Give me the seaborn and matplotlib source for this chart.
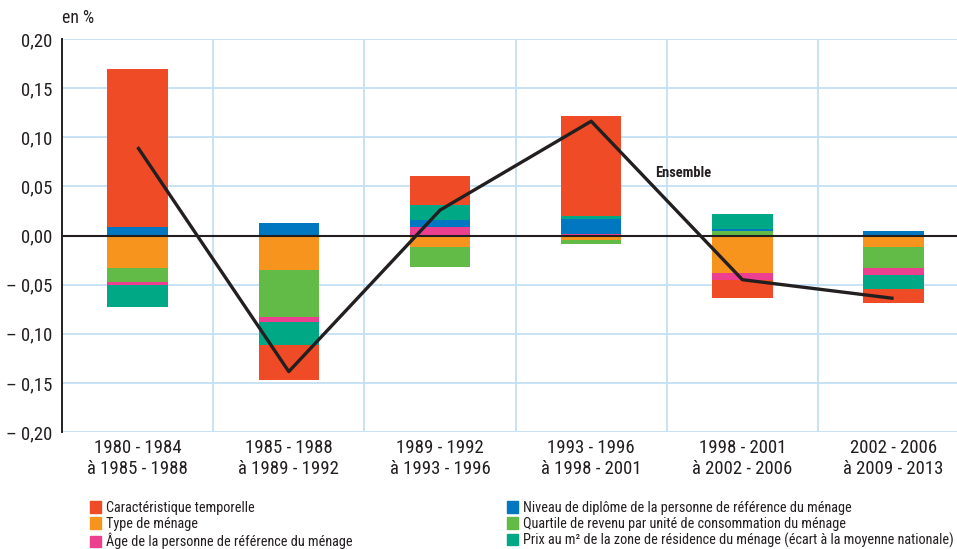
import numpy as np
import pandas as pd
import matplotlib
matplotlib.use("Agg")
import matplotlib.pyplot as plt
import seaborn as sns
from matplotlib.patches import Patch
from matplotlib import font_manager as fm

# ---------------- data ----------------
categories = ["1980 - 1984\nà 1985 - 1988", "1985 - 1988\nà 1989 - 1992",
              "1989 - 1992\nà 1993 - 1996", "1993 - 1996\nà 1998 - 2001",
              "1998 - 2001\nà 2002 - 2006", "2002 - 2006\nà 2009 - 2013"]
temporelle = [0.1605, -0.0355, 0.0292, 0.1020, -0.0184, -0.0143]
type_menage = [-0.0334, -0.0350, -0.0116, -0.0044, -0.0384, -0.0119]
age = [-0.0031, -0.0046, 0.0089, 0.0015, -0.0068, -0.0068]
diplome = [0.0089, 0.0130, 0.0067, 0.0150, 0.0024, 0.0050]
quartile = [-0.0135, -0.0484, -0.0207, -0.0041, 0.0041, -0.0214]
prix = [-0.0228, -0.0235, 0.0157, 0.0030, 0.0149, -0.0146]
ensemble = [0.090, -0.1385, 0.0258, 0.1163, -0.045, -0.064]

yticks = [0.20, 0.15, 0.10, 0.05, 0.0, -0.05, -0.10, -0.15, -0.20]
ytick_labels = ["0,20", "0,15", "0,10", "0,05", "0,00",
                "– 0,05", "– 0,10", "– 0,15", "– 0,20"]

lab_temp = "Caractéristique temporelle"
lab_type = "Type de ménage"
lab_age = "Âge de la personne de référence du ménage"
lab_dipl = "Niveau de diplôme de la personne de référence du ménage"
lab_quart = "Quartile de revenu par unité de consommation du ménage"
lab_prix = "Prix au m² de la zone de résidence du ménage (écart à la moyenne nationale)"

c_red, c_orange, c_pink = "#ef4b26", "#f7941d", "#ec3f8f"
c_blue, c_green, c_teal = "#0077c0", "#62bb46", "#00a886"
dark = "#231f20"
gridc = "#c4e1f4"

# stacking order from zero outward
stack_series = [type_menage, quartile, age, diplome, prix, temporelle]
stack_colors = [c_orange, c_green, c_pink, c_blue, c_teal, c_red]

# ---------------- font choice (prefer a condensed face) ----------------
names = {f.name for f in fm.fontManager.ttflist}
stretch = "normal"
if "Liberation Sans Narrow" in names:
    fam = "Liberation Sans Narrow"
elif "Roboto Condensed" in names:
    fam = "Roboto Condensed"
else:
    cond = [f for f in fm.fontManager.ttflist
            if f.name == "DejaVu Sans" and "ondensed" in f.fname]
    if cond:
        fam, stretch = "DejaVu Sans", "condensed"
    else:
        fam = "Liberation Sans"

sns.set_theme(style="white")
plt.rcParams["font.family"] = [fam, "DejaVu Sans"]
plt.rcParams["font.stretch"] = stretch
plt.rcParams["text.color"] = dark

fig = plt.figure(figsize=(9.57, 5.49), dpi=100)
renderer = fig.canvas.get_renderer()


def fit_size(s, target_px, weight="normal"):
    prop = fm.FontProperties(family=[fam, "DejaVu Sans"], size=10,
                             weight=weight, stretch=stretch)
    w, _, _ = renderer.get_text_width_height_descent(s, prop, ismath=False)
    return 10 * target_px / w


tick_fs = min(fit_size("à 1985 - 1988", 104), 13.5)
leg_fs = min(fit_size(lab_prix, 428), 11)
ens_fs = min(fit_size("Ensemble", 56, "bold"), 11)

ax = fig.add_axes([62 / 957, 1 - 432 / 549, 1 - 62 / 957, (432 - 39) / 549])

pos = np.arange(len(categories))
arr = np.array(stack_series)
pos_cum = np.cumsum(np.clip(arr, 0, None), axis=0)
neg_cum = np.cumsum(np.clip(arr, None, 0), axis=0)

# draw cumulative bars from the outermost to the innermost
for k in range(len(stack_series) - 1, -1, -1):
    for cum in (pos_cum, neg_cum):
        df = pd.DataFrame({"pos": pos, "val": cum[k]})
        sns.barplot(data=df, x="pos", y="val", color=stack_colors[k],
                    saturation=1, width=0.4, linewidth=0, ax=ax, zorder=2)

ax.axhline(0, color=dark, lw=1.5, zorder=4)

sns.lineplot(x=pos, y=ensemble, color=dark, lw=2.4, ax=ax, zorder=5,
             solid_capstyle="butt")
ax.text(3.61, 0.064, "Ensemble", fontsize=ens_fs, fontweight="bold",
        ha="center", va="center", color=dark, zorder=6)

# axes
ax.set_xlim(-0.5, -0.5 + 895 / 151.2)
ax.set_ylim(-0.20, 0.20)
ax.set_yticks(yticks)
ax.set_yticklabels(ytick_labels)
ax.set_xticks(pos)
ax.set_xticklabels(categories)
ax.set_xticks(pos[:-1] + 0.5, minor=True)
ax.set_xlabel("")
ax.set_ylabel("")
ax.tick_params(axis="both", which="both", length=0, labelsize=tick_fs, colors=dark)
ax.tick_params(axis="y", pad=7)
ax.tick_params(axis="x", pad=5)
ax.set_axisbelow(True)
ax.yaxis.grid(True, color=gridc, lw=1.3)
ax.xaxis.grid(True, which="minor", color=gridc, lw=1.3)
ax.xaxis.grid(False, which="major")
for s in ["top", "right", "bottom"]:
    ax.spines[s].set_visible(False)
ax.spines["left"].set_color(dark)
ax.spines["left"].set_linewidth(1.4)
ax.spines["left"].set_zorder(6)

fig.text(62 / 957, 1 - 18 / 549, "en %", fontsize=tick_fs * 0.95,
         ha="left", va="center", color=dark)

# legends
h1 = [Patch(color=c_red, label=lab_temp), Patch(color=c_orange, label=lab_type),
      Patch(color=c_pink, label=lab_age)]
h2 = [Patch(color=c_blue, label=lab_dipl), Patch(color=c_green, label=lab_quart),
      Patch(color=c_teal, label=lab_prix)]
lsp = max(16 / (leg_fs * 100 / 72) - 1, 0.05)
common = dict(loc="upper left", frameon=False, fontsize=leg_fs,
              handlelength=11 / (leg_fs * 100 / 72),
              handleheight=12 / (leg_fs * 100 / 72),
              handletextpad=5 / (leg_fs * 100 / 72), labelspacing=lsp,
              borderpad=0, borderaxespad=0)
leg1 = fig.legend(handles=h1, bbox_to_anchor=(90 / 957, 1 - 501 / 549), **common)
leg2 = fig.legend(handles=h2, bbox_to_anchor=(507 / 957, 1 - 501 / 549), **common)
for leg in (leg1, leg2):
    for t in leg.get_texts():
        t.set_color(dark)

fig.savefig("out.png", dpi=100)
